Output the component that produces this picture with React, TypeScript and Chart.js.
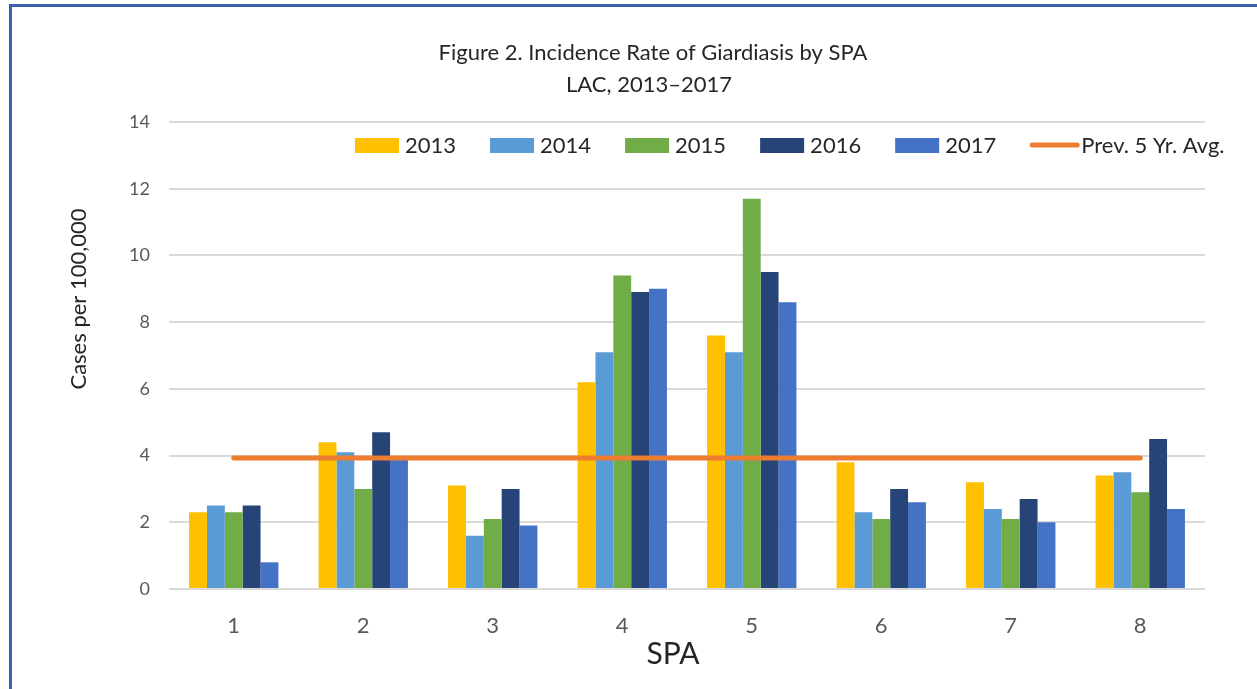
import React, { useEffect, useRef } from "react";
import { Chart, registerables } from "chart.js";

Chart.register(...registerables);

const titleLines = ["Figure 2. Incidence Rate of Giardiasis by SPA", "LAC, 2013\u20132017"];
const xAxisTitle = "SPA";
const yAxisTitle = "Cases per 100,000";
const categories = ["1", "2", "3", "4", "5", "6", "7", "8"];
const seriesLabels = ["2013", "2014", "2015", "2016", "2017"];
const values2013 = [2.3, 4.4, 3.1, 6.2, 7.6, 3.8, 3.2, 3.4];
const values2014 = [2.5, 4.1, 1.6, 7.1, 7.1, 2.3, 2.4, 3.5];
const values2015 = [2.3, 3.0, 2.1, 9.4, 11.7, 2.1, 2.1, 2.9];
const values2016 = [2.5, 4.7, 3.0, 8.9, 9.5, 3.0, 2.7, 4.5];
const values2017 = [0.8, 3.9, 1.9, 9.0, 8.6, 2.6, 2.0, 2.4];
const avgLabel = "Prev. 5 Yr. Avg.";
const avgValues = [3.93, 3.93, 3.93, 3.93, 3.93, 3.93, 3.93, 3.93];
const yMin = 0;
const yMax = 14;
const yStep = 2;

const seriesValues = [values2013, values2014, values2015, values2016, values2017];
const seriesColors = ["#FFC000", "#5B9BD5", "#70AD47", "#264478", "#4472C4"];
const avgColor = "#ED7D31";
const FONT = "Lato, 'Open Sans', sans-serif";

const overlayPlugin = {
  id: "overlay",
  afterDraw(chart: any) {
    const ctx = chart.ctx as CanvasRenderingContext2D;
    ctx.save();
    // Title
    ctx.fillStyle = "#262626";
    ctx.textAlign = "center";
    ctx.textBaseline = "middle";
    ctx.font = `22px ${FONT}`;
    ctx.fillText(titleLines[0], 653, 53);
    ctx.fillText(titleLines[1], 649, 85);

    // Legend
    ctx.font = `22px ${FONT}`;
    ctx.textAlign = "left";
    let x = 355;
    const yc = 145;
    chart.data.datasets.forEach((ds: any) => {
      if (ds.type === "line") {
        x = Math.max(x, 1027);
        ctx.strokeStyle = ds.borderColor;
        ctx.lineWidth = 5;
        ctx.lineCap = "round";
        ctx.beginPath();
        ctx.moveTo(x + 2, yc);
        ctx.lineTo(x + 47, yc);
        ctx.stroke();
        ctx.fillStyle = "#262626";
        ctx.fillText(ds.label, x + 51, yc + 1);
      } else {
        ctx.fillStyle = ds.backgroundColor;
        ctx.fillRect(x, yc - 7, 44, 15);
        ctx.fillStyle = "#262626";
        ctx.fillText(ds.label, x + 50, yc + 1);
        const w = ctx.measureText(ds.label).width;
        x += 50 + w + 34;
      }
    });

    // Y axis title
    ctx.save();
    ctx.translate(79, 299);
    ctx.rotate(-Math.PI / 2);
    ctx.textAlign = "center";
    ctx.textBaseline = "middle";
    ctx.font = `22px ${FONT}`;
    ctx.fillStyle = "#262626";
    ctx.fillText(yAxisTitle, 0, 0);
    ctx.restore();

    // X axis title
    ctx.textAlign = "center";
    ctx.textBaseline = "middle";
    ctx.font = `30px ${FONT}`;
    ctx.fillStyle = "#262626";
    ctx.fillText(xAxisTitle, 673, 654);
    ctx.restore();
  },
};

export default function App() {
  const canvasRef = useRef<HTMLCanvasElement | null>(null);

  useEffect(() => {
    if (!canvasRef.current) return;
    const barSets = seriesLabels.map((label, i) => ({
      type: "bar" as const,
      label,
      data: seriesValues[i],
      backgroundColor: seriesColors[i],
      borderWidth: 0,
      order: 1,
      barPercentage: 1.0,
      categoryPercentage: 0.69,
    }));
    const chart = new Chart(canvasRef.current, {
      type: "bar",
      data: {
        labels: categories,
        datasets: [
          ...barSets,
          {
            type: "line" as const,
            label: avgLabel,
            data: avgValues,
            borderColor: avgColor,
            backgroundColor: avgColor,
            borderWidth: 5,
            borderCapStyle: "round",
            pointRadius: 0,
            fill: false,
            order: 0,
          } as any,
        ],
      },
      options: {
        responsive: false,
        animation: false,
        layout: { padding: { top: 122, right: 52, bottom: 0, left: 0 } },
        plugins: {
          legend: { display: false },
          title: { display: false },
          tooltip: { enabled: false },
        },
        scales: {
          x: {
            grid: { display: false, drawTicks: false },
            border: { display: false },
            ticks: {
              color: "#595959",
              font: { family: FONT, size: 22 },
              padding: 24,
            },
            afterFit: (scale: any) => {
              scale.height = 100;
            },
          },
          y: {
            min: yMin,
            max: yMax,
            ticks: {
              stepSize: yStep,
              color: "#595959",
              font: { family: FONT, size: 18 },
              padding: 19,
            },
            grid: { color: "#d9d9d9", lineWidth: 2, drawTicks: false },
            border: { display: false },
            afterFit: (scale: any) => {
              scale.width = 169;
            },
          },
        },
      },
      plugins: [overlayPlugin],
    });
    return () => chart.destroy();
  }, []);

  return (
    <div style={{ position: "fixed", left: 0, top: 0, width: 1257, height: 689, background: "#fff", overflow: "hidden" }}>
      <div
        style={{
          position: "absolute",
          left: 9,
          top: 4,
          width: 1400,
          height: 800,
          borderLeft: "3px solid #3A62A8",
          borderTop: "3px solid #3A62A8",
        }}
      />
      <canvas ref={canvasRef} width={1257} height={689} style={{ position: "absolute", left: 0, top: 0, width: 1257, height: 689 }} />
    </div>
  );
}
